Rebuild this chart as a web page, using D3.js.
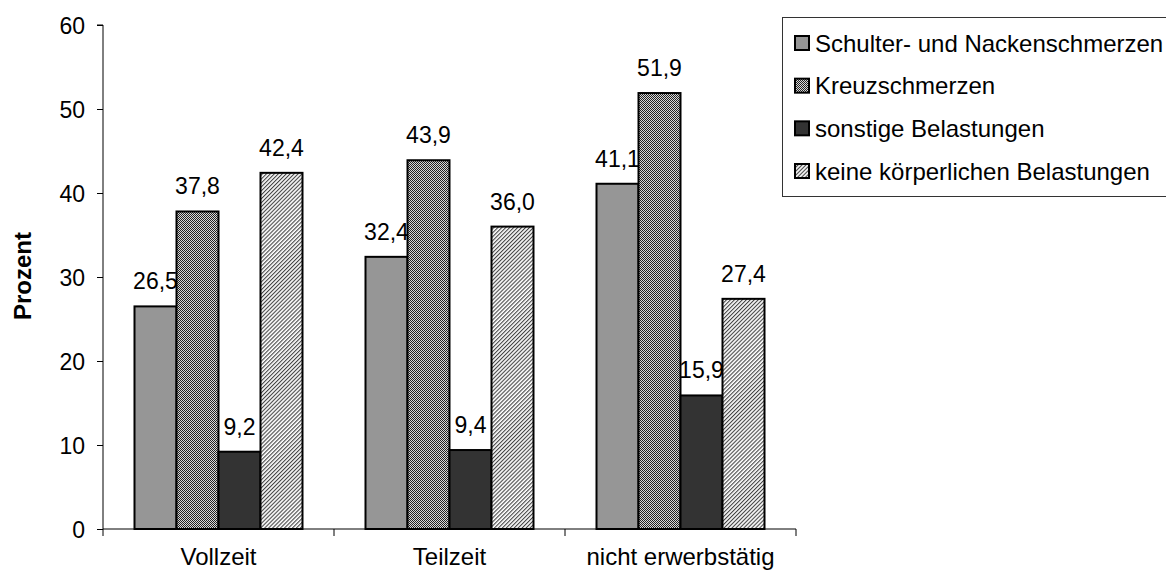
<!DOCTYPE html>
<html><head><meta charset="utf-8">
<script src="https://cdn.jsdelivr.net/npm/d3@7"></script>
<style>body{margin:0;background:#fff}svg{display:block}text{font-family:"Liberation Sans",Arial,sans-serif;fill:#000}</style>
</head><body><svg id="c" width="1166" height="571"></svg>
<script>
const categories = ["Vollzeit", "Teilzeit", "nicht erwerbstätig"];
const seriesNames = ["Schulter- und Nackenschmerzen", "Kreuzschmerzen", "sonstige Belastungen", "keine körperlichen Belastungen"];
const schulter = [26.5, 32.4, 41.1];
const kreuz = [37.8, 43.9, 51.9];
const sonstige = [9.2, 9.4, 15.9];
const keine = [42.4, 36.0, 27.4];
const yTicks = [0, 10, 20, 30, 40, 50, 60];
const yTitle = "Prozent";

const seriesValues = [schulter, kreuz, sonstige, keine];
const fills = ["#969696", "url(#checker)", "#333333", "url(#hatch)"];

const svg = d3.select("#c");
const defs = svg.append("defs");
const ck = defs.append("pattern").attr("id","checker").attr("width",2).attr("height",2).attr("patternUnits","userSpaceOnUse");
ck.append("rect").attr("width",2).attr("height",2).attr("fill","#d8d8d8");
ck.append("rect").attr("x",0).attr("y",0).attr("width",1).attr("height",1).attr("fill","#222");
ck.append("rect").attr("x",1).attr("y",1).attr("width",1).attr("height",1).attr("fill","#222");
const ht = defs.append("pattern").attr("id","hatch").attr("width",2.8).attr("height",2.8).attr("patternUnits","userSpaceOnUse").attr("patternTransform","rotate(45)");
ht.append("rect").attr("width",2.8).attr("height",2.8).attr("fill","#fff");
ht.append("rect").attr("width",1.1).attr("height",2.8).attr("fill","#444");

const left = 103, right = 796, y0 = 529, yTop = 25;
const x = d3.scaleBand().domain(categories).range([left, right]).padding(0);
const xi = d3.scaleBand().domain(d3.range(seriesNames.length)).range([0, x.bandwidth()]).paddingInner(0).paddingOuter(0.75);
const y = d3.scaleLinear().domain([0, 60]).range([y0, yTop]);

// y axis
const ya = svg.append("g").attr("transform", `translate(${left},0)`)
  .call(d3.axisLeft(y).tickValues(yTicks).tickSize(6).tickPadding(12).tickFormat(d3.format("d")));
ya.select(".domain").attr("stroke","#000").attr("d", `M-6,${y(60)}H0V${y0}`);
ya.selectAll(".tick line").attr("stroke","#000");
ya.selectAll("text").style("font-size","23px").style("font-family","Liberation Sans, Arial, sans-serif").attr("dy","0.35em");

// bars
categories.forEach((c, ci) => {
  seriesValues.forEach((vals, si) => {
    const v = vals[ci];
    svg.append("rect")
      .attr("x", x(c) + xi(si)).attr("y", y(v))
      .attr("width", xi.bandwidth()).attr("height", y(0) - y(v))
      .attr("fill", fills[si]).attr("stroke", "#000").attr("stroke-width", 2);
    svg.append("text")
      .attr("x", x(c) + xi(si) + xi.bandwidth()/2).attr("y", y(v) - 17)
      .attr("text-anchor","middle").style("font-size","23px")
      .text(d3.format(".1f")(v).replace(".", ","));
  });
});

// x axis
const xg = svg.append("g");
xg.append("line").attr("x1", left).attr("x2", right).attr("y1", y0).attr("y2", y0).attr("stroke","#000");
[...categories.map(c => x(c)), right].forEach(t => {
  xg.append("line").attr("x1", t).attr("x2", t).attr("y1", y0).attr("y2", y0 + 7).attr("stroke","#000");
});
categories.forEach(c => {
  xg.append("text").attr("x", x(c) + x.bandwidth()/2).attr("y", 565)
    .attr("text-anchor","middle").style("font-size","24px").text(c);
});

// y title
svg.append("text").attr("transform","translate(31,276) rotate(-90)")
  .attr("text-anchor","middle").style("font-size","24px").style("font-weight","bold").text(yTitle);

// legend
const lg = svg.append("g");
lg.append("rect").attr("x", 782.5).attr("y", 17.5).attr("width", 420).attr("height", 179)
  .attr("fill","#fff").attr("stroke","#333").attr("stroke-width",1);
const ly = d3.scalePoint().domain(d3.range(seriesNames.length)).range([43, 171]);
seriesNames.forEach((s, i) => {
  lg.append("rect").attr("x", 795).attr("y", ly(i) - 7).attr("width", 14).attr("height", 14)
    .attr("fill", fills[i]).attr("stroke","#000").attr("stroke-width",2);
  lg.append("text").attr("x", 815).attr("y", ly(i)).attr("dy","0.36em")
    .style("font-size","24px").text(s);
});
</script></body></html>
